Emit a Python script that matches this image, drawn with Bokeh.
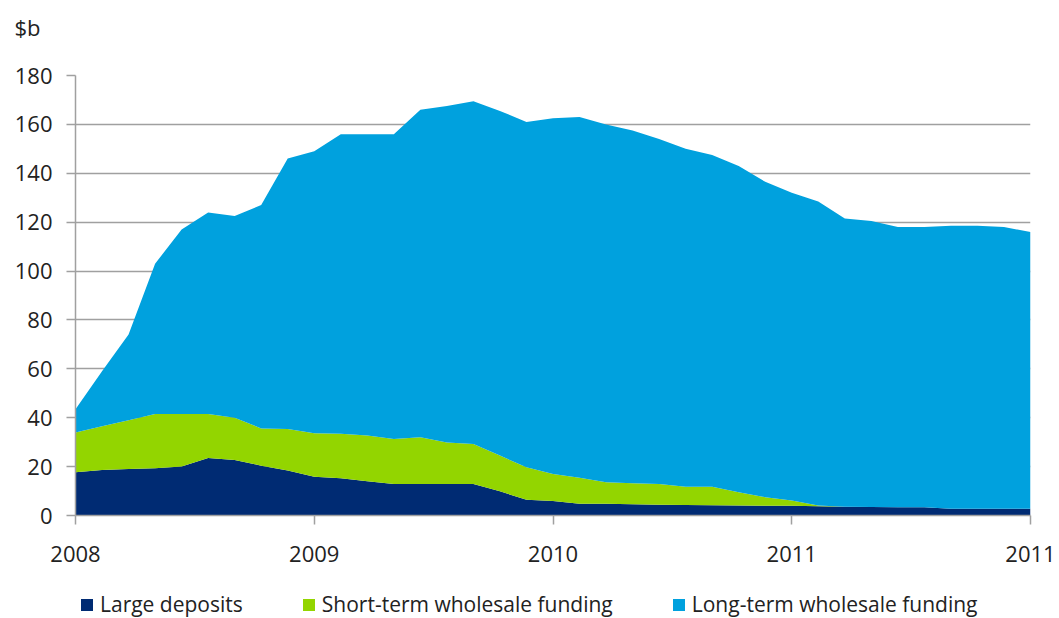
from bokeh.plotting import figure
from bokeh.layouts import column
from bokeh.models import Range1d, FixedTicker, Legend, LegendItem, ColumnDataSource, Title
from bokeh.embed import file_html
from bokeh.resources import INLINE

# Monthly-ish observations (index positions along the axis)
period = list(range(37))
large_deposits = [17.7, 18.6, 19.0, 19.3, 20.0, 23.5, 22.7, 20.4, 18.4, 15.9, 15.2, 14.0, 12.9,
                  12.9, 12.9, 12.9, 9.9, 6.4, 5.9, 4.8, 4.8, 4.6, 4.4, 4.3, 4.2, 4.1, 4.0, 4.0,
                  3.8, 3.6, 3.5, 3.4, 3.4, 2.8, 2.8, 2.8, 2.8]
short_term = [16.3, 17.9, 20.0, 22.2, 21.5, 18.0, 17.3, 15.2, 17.0, 17.7, 18.2, 18.7, 18.4,
              19.1, 17.0, 16.4, 14.6, 13.3, 11.1, 10.6, 8.8, 8.6, 8.5, 7.5, 7.6, 5.4, 3.5, 2.1,
              0.3, 0.0, 0.0, 0.0, 0.0, 0.0, 0.0, 0.0, 0.0]
long_term = [9.5, 22.5, 35.0, 61.5, 75.5, 82.5, 82.5, 91.4, 110.6, 115.4, 122.6, 123.3, 124.7,
             134.0, 137.6, 140.2, 141.0, 141.3, 145.5, 147.6, 146.4, 144.3, 141.1, 138.2, 135.7,
             133.5, 129.0, 125.9, 124.4, 117.9, 117.0, 114.6, 114.6, 115.7, 115.7, 115.2, 113.2]
series_names = ["Large deposits", "Short-term wholesale funding", "Long-term wholesale funding"]
colors = ["#002B73", "#93D500", "#00A1DE"]
x_tick_positions = [0, 9, 18, 27, 36]
x_tick_labels = ["2008", "2009", "2010", "2011", "2011"]
y_ticks = [0, 20, 40, 60, 80, 100, 120, 140, 160, 180]

FONT = "Open Sans"

src = ColumnDataSource(dict(x=period, a=large_deposits, b=short_term, c=long_term))

p = figure(frame_width=955, frame_height=440, output_backend="svg", toolbar_location=None,
           x_range=Range1d(0, 36), y_range=Range1d(0, 180),
           min_border_left=75, min_border_right=29, min_border_top=75, min_border_bottom=73)
# unit label, with a blank spacer title between it and the frame
p.title = Title(text="$b", align="left", offset=-61, standoff=0, text_font=FONT,
                text_font_size="22px", text_font_style="normal", text_color="#222222")
p.add_layout(Title(text="\u00a0", standoff=2, text_font=FONT, text_font_size="22px"), "above")

p.varea_stack(stackers=["a", "b", "c"], x="x", color=colors, source=src)

p.background_fill_color = "white"
p.border_fill_color = "white"
p.outline_line_color = None

p.xgrid.visible = False
p.ygrid.grid_line_color = "#A0A0A0"
p.ygrid.grid_line_width = 1.5
p.ygrid.level = "underlay"

p.yaxis.ticker = FixedTicker(ticks=y_ticks)
p.xaxis.ticker = FixedTicker(ticks=x_tick_positions)
p.xaxis.major_label_overrides = {k: v for k, v in zip(x_tick_positions, x_tick_labels)}

for ax in (p.xaxis, p.yaxis):
    ax.axis_line_color = "#A0A0A0"
    ax.axis_line_width = 1.5
    ax.major_tick_line_color = "#A0A0A0"
    ax.major_tick_line_width = 1.5
    ax.major_tick_in = 0
    ax.major_tick_out = 9
    ax.minor_tick_line_color = None
    ax.major_label_text_font = FONT
    ax.major_label_text_font_size = "22px"
    ax.major_label_text_color = "#222222"
p.xaxis.major_label_standoff = 21
p.yaxis.major_label_standoff = 14

# legend strip beneath the chart (its own renderers sit outside its visible range)
lg = figure(width=1059, height=30, output_backend="svg", toolbar_location=None,
            x_range=Range1d(-100, -99), y_range=Range1d(0, 1),
            x_axis_type=None, y_axis_type=None,
            min_border_left=0, min_border_right=0, min_border_top=0, min_border_bottom=0)
lg.grid.visible = False
lg.outline_line_color = None
lg_rs = lg.varea_stack(stackers=["a", "b", "c"], x="x", color=colors, source=src)
items = [LegendItem(label=n, renderers=[r]) for n, r in zip(series_names, lg_rs)]
legend = Legend(items=items, orientation="horizontal", location=(4, 0),
                label_text_font=FONT, label_text_font_size="21px", label_text_color="#222222",
                glyph_width=15, glyph_height=15, label_standoff=6, spacing=58,
                border_line_color=None, background_fill_alpha=0, padding=0, margin=0)
lg.add_layout(legend, "center")

layout = column(p, lg, spacing=0)
open("out.html", "w").write(file_html(layout, INLINE))
